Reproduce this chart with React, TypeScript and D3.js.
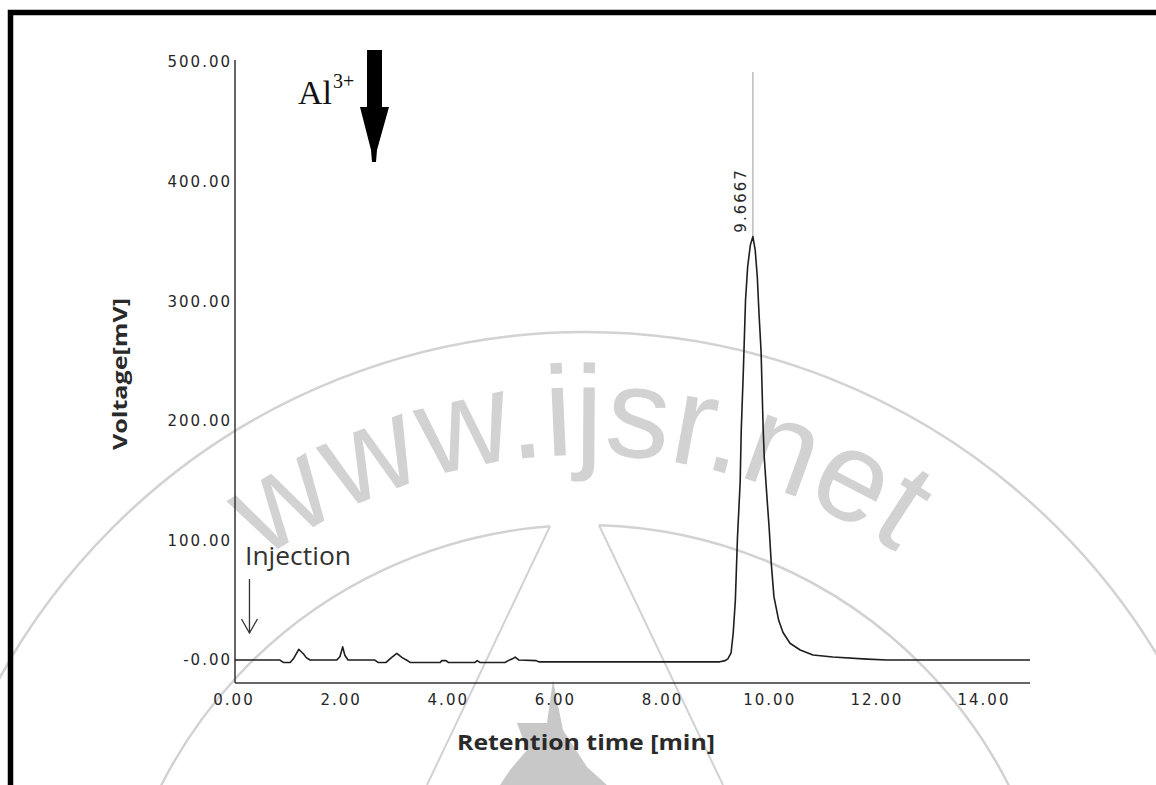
import React from "react";
import * as d3 from "d3";

// ---- data ----
const retentionTimes = [
  0, 0.84, 0.9, 1.03, 1.09, 1.19, 1.28, 1.33, 1.4, 1.9, 1.96, 2.01, 2.05, 2.11,
  2.61, 2.67, 2.82, 2.92, 3.02, 3.12, 3.2, 3.27, 3.83, 3.86, 3.94, 3.98, 4.48,
  4.52, 4.57, 5.04, 5.1, 5.18, 5.23, 5.3, 5.62, 5.67, 9.05, 9.15, 9.2, 9.26,
  9.3, 9.34, 9.38, 9.43, 9.45, 9.49, 9.53, 9.57, 9.62, 9.6667, 9.71, 9.75, 9.78,
  9.82, 9.86, 9.88, 9.93, 9.97, 10.01, 10.06, 10.15, 10.23, 10.36, 10.55, 10.79,
  11.16, 11.8, 12.17, 14.84,
];
const voltages = [
  0, 0, -2, -2, 1, 9, 5, 2, 0, 0, 3, 11, 4, 0,
  0, -2, -2, 2, 5.5, 2, 0, -2, -2, -0.5, -0.5, -2, -2,
  -0.5, -2, -2, -0.5, 1, 2.5, 0, -0.5, -1.5, -1.5, -0.5, 1, 5.9,
  22.6, 50, 103, 149, 192, 243, 301, 329, 347, 354, 343, 320, 291,
  258, 192, 169, 136, 111, 81, 53, 33, 23, 14, 8.4, 4.2,
  2.5, 0.8, 0, 0,
];
const xTickValues = [0, 2, 4, 6, 8, 10, 12, 14];
const xTickLabels = ["0.00", "2.00", "4.00", "6.00", "8.00", "10.00", "12.00", "14.00"];
const yTickValues = [0, 100, 200, 300, 400, 500];
const yTickLabels = ["-0.00", "100.00", "200.00", "300.00", "400.00", "500.00"];
const peakTime = 9.6667;
const peakVoltage = 354;
const peakLabel = "9.6667";
const injectionTime = 0.27;
const xDomain = [0, 14.84];
const yDomain = [-19.2, 500];

const W = 1156;
const H = 785;

export default function App() {
  const x = d3.scaleLinear().domain(xDomain).range([235, 1030]);
  const y = d3.scaleLinear().domain(yDomain).range([683, 62]);
  const pts = retentionTimes.map((t, i) => [t, voltages[i]] as [number, number]);
  const line = d3
    .line<[number, number]>()
    .x((d) => x(d[0]))
    .y((d) => y(d[1]))
    .curve(d3.curveLinear);

  // watermark geometry
  const cx = 585,
    cy = 1000;
  const rOuter = 668,
    rInner = 475,
    rText = 545;
  const innerLeftX = 550,
    innerRightX = 599;
  const innerLeftY = cy - Math.sqrt(rInner * rInner - (cx - innerLeftX) ** 2);
  const innerRightY = cy - Math.sqrt(rInner * rInner - (innerRightX - cx) ** 2);
  const textArc = `M ${cx - rText} ${cy} A ${rText} ${rText} 0 0 1 ${cx + rText} ${cy}`;
  const wmColor = "#d2d2d2";

  const tickFont = "'DejaVu Sans', Verdana, sans-serif";
  const x0 = x(0);
  const yBottom = y(yDomain[0]);

  return (
    <svg
      width={W}
      height={H}
      viewBox={`0 0 ${W} ${H}`}
      style={{ position: "absolute", left: 0, top: 0, background: "#fff" }}
    >
      <rect x={0} y={0} width={W} height={H} fill="#fff" />

      {/* watermark */}
      <g>
        <circle cx={cx} cy={cy} r={rOuter} fill="none" stroke={wmColor} strokeWidth={2.5} />
        <path
          d={`M ${cx - rInner} ${cy} A ${rInner} ${rInner} 0 0 1 ${innerLeftX} ${innerLeftY}`}
          fill="none"
          stroke={wmColor}
          strokeWidth={2.5}
        />
        <path
          d={`M ${innerRightX} ${innerRightY} A ${rInner} ${rInner} 0 0 1 ${cx + rInner} ${cy}`}
          fill="none"
          stroke={wmColor}
          strokeWidth={2.5}
        />
        <line x1={innerLeftX} y1={innerLeftY} x2={427} y2={785} stroke={wmColor} strokeWidth={2} />
        <line x1={innerRightX} y1={innerRightY} x2={723} y2={785} stroke={wmColor} strokeWidth={2} />
        <polygon
          points="553,680 563,730 587,767 607,785 500,785 510,770 527,750 517,723 547,723"
          fill="#c8c8c8"
        />
        <path id="wmArc" d={textArc} fill="none" />
        <text
          fontFamily="'Liberation Sans', Arial, sans-serif"
          fontSize={128}
          fill={wmColor}
        >
          <textPath href="#wmArc" startOffset="49.6%" textAnchor="middle">
            www.ijsr.net
          </textPath>
        </text>
      </g>

      {/* frame */}
      <path d={`M 10.5 ${H} V 12.5 H ${W}`} fill="none" stroke="#000" strokeWidth={5.5} />

      {/* axes */}
      <line x1={x0} y1={y(yDomain[1]) - 2} x2={x0} y2={yBottom} stroke="#333" strokeWidth={1.5} />
      <line x1={x0} y1={yBottom} x2={x(xDomain[1])} y2={yBottom} stroke="#333" strokeWidth={1.5} />

      {yTickValues.map((v, i) => (
        <text
          key={"yt" + i}
          x={x0 - 3}
          y={y(v)}
          dy="0.36em"
          textAnchor="end"
          fontFamily={tickFont}
          fontSize={15}
          letterSpacing={2}
          fill="#262626"
        >
          {yTickLabels[i]}
        </text>
      ))}
      {xTickValues.map((v, i) => (
        <text
          key={"xt" + i}
          x={x(v) - 1}
          y={705}
          textAnchor="middle"
          fontFamily={tickFont}
          fontSize={15}
          letterSpacing={2}
          fill="#262626"
        >
          {xTickLabels[i]}
        </text>
      ))}

      {/* axis titles */}
      <text
        x={586}
        y={750}
        textAnchor="middle"
        fontFamily="'Open Sans', sans-serif"
        fontWeight={700}
        fontSize={22}
        textLength={258}
        lengthAdjust="spacingAndGlyphs"
        fill="#2a2a2a"
      >
        Retention time [min]
      </text>
      <text
        transform="translate(127,374) rotate(-90)"
        textAnchor="middle"
        fontFamily="'Open Sans', sans-serif"
        fontWeight={700}
        fontSize={20}
        textLength={152}
        lengthAdjust="spacingAndGlyphs"
        fill="#2a2a2a"
      >
        Voltage[mV]
      </text>

      {/* peak marker */}
      <line
        x1={x(peakTime)}
        y1={72}
        x2={x(peakTime)}
        y2={y(peakVoltage)}
        stroke="#bdbdbd"
        strokeWidth={1.5}
      />
      <text
        transform={`translate(${x(peakTime) - 7},${y(peakVoltage) - 4}) rotate(-90)`}
        fontFamily={tickFont}
        fontSize={15}
        letterSpacing={2}
        fill="#262626"
      >
        {peakLabel}
      </text>

      {/* chromatogram trace */}
      <path d={line(pts) || ""} fill="none" stroke="#1e1e1e" strokeWidth={1.6} strokeLinejoin="round" />

      {/* injection annotation */}
      <text
        x={245}
        y={565}
        fontFamily="'Open Sans', sans-serif"
        fontSize={25}
        textLength={106}
        lengthAdjust="spacingAndGlyphs"
        fill="#333"
      >
        Injection
      </text>
      <line x1={x(injectionTime)} y1={579} x2={x(injectionTime)} y2={633} stroke="#333" strokeWidth={1.3} />
      <polyline
        points={`${x(injectionTime) - 8},619 ${x(injectionTime)},633 ${x(injectionTime) + 8},619`}
        fill="none"
        stroke="#333"
        strokeWidth={1.3}
      />

      {/* Al3+ arrow */}
      <text x={298} y={104} fontFamily="'Liberation Serif', 'Times New Roman', serif" fontSize={34} fill="#111">
        Al
      </text>
      <text x={333} y={88} fontFamily="'Liberation Serif', 'Times New Roman', serif" fontSize={20} fill="#111">
        3+
      </text>
      <rect x={367} y={50} width={15} height={58} fill="#000" />
      <polygon points="360,107 389,107 377,150 376,162 372,162 371,150" fill="#000" />
    </svg>
  );
}
